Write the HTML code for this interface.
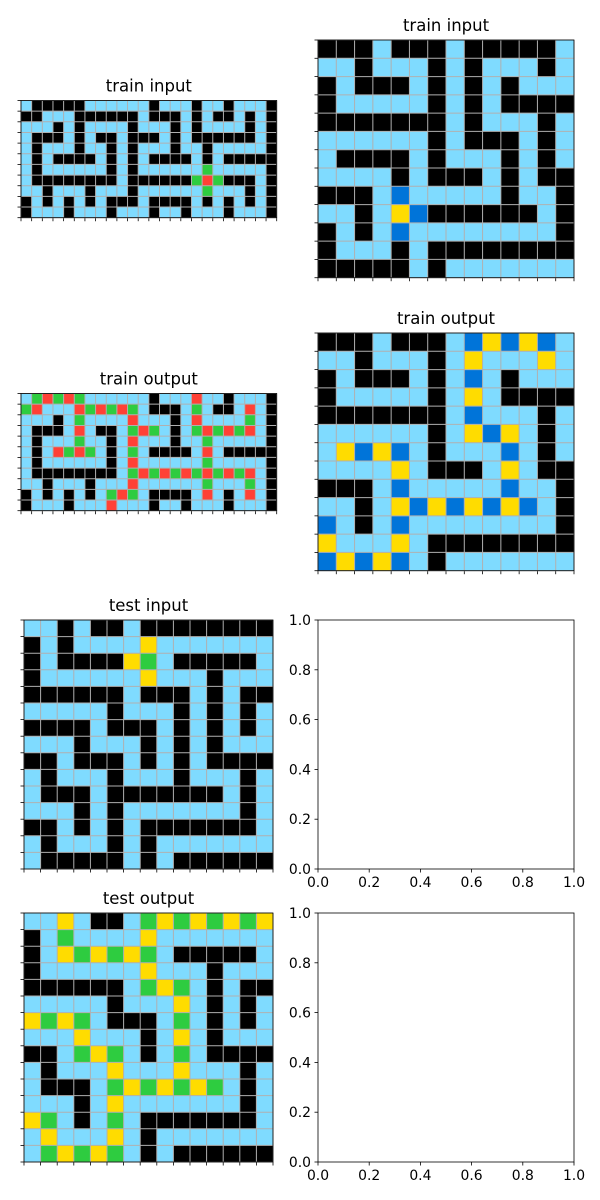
<!DOCTYPE html>
<html><head><meta charset="utf-8">
<style>
html,body{margin:0;padding:0;background:#fff;}
svg{display:block;}
text{font-family:"DejaVu Sans","Liberation Sans",sans-serif;fill:#000;}
</style></head>
<body>
<svg id="fig" width="600" height="1200" viewBox="0 0 600 1200" xmlns="http://www.w3.org/2000/svg"></svg>
<script>
const train1Input = [
"LBBBBBLLLLLLBLLLBLLBLLLB",
"BBLLLBBBBBBLBBBLBLBBLBLB",
"LLLBLBLLLLBLLLBLBLLLLBLB",
"LBBBLBLBBLBBBLBLBBBBBBLB",
"LBLLLBLLBLBLLLBLLBLLLLLB",
"LBLBBBBLBLBLBBBBLBLBBBBB",
"LBLLLLLLBLBLLLLLLGLLLLLB",
"LBBBBBBBBLBBBBBBGRGBBBLB",
"LLBLLLBLLLBLLLLLLGLLLBLB",
"BLBLBLBLBBBLBBBBLBLBLBLB",
"BLLLBLLLBLLLBLLBLLLBLLLB"];
const train1Output = [
"LGRGRGLLLLLLBLLLRLLBLLLB",
"GRLLLRGRGRGLBBBLGLBBLRLB",
"LLLBLGLLLLRLLLBLRLLLLGLB",
"LBBBLRLBBLGRGLBLGRGRGRLB",
"LBLLLGLLBLRLLLBLLGLLLLLB",
"LBLRGRGLBLGLBBBBLRLBBBBB",
"LBLLLLLLBLRLLLLLLGLLLLLB",
"LBBBBBBBBLGRGRGRGRGRGRLB",
"LLBLLLBLLLRLLLLLLGLLLGLB",
"BLBLBLBLGRGLBBBBLRLBLRLB",
"BLLLBLLLRLLLBLLBLLLBLLLB"];
const train2Input = [
"BBBLBBBLBBBBBL",
"LLBLLLBLBLLLBL",
"BLBBBLBLBLBLLL",
"BLLLLLBLBLBBBB",
"BBBBBBBLBLLLBL",
"LLLLLLBLBBBLBL",
"LBBBBLBLLLBLBL",
"LLLLBLBBBLBLBB",
"BBBLDLLLLLBLLB",
"LLBLYDBBBBBBLB",
"BLBLDLLLLLLLLB",
"BLLLBLBBBBBBBB",
"BBBBBLBLLLLLLL"];
const train2Output = [
"BBBLBBBLDYDYDL",
"LLBLLLBLYLLLYL",
"BLBBBLBLDLBLLL",
"BLLLLLBLYLBBBB",
"BBBBBBBLDLLLBL",
"LLLLLLBLYDYLBL",
"LYDYDLBLLLDLBL",
"LLLLYLBBBLYLBB",
"BBBLDLLLLLDLLB",
"LLBLYDYDYDYDLB",
"DLBLDLLLLLLLLB",
"YLLLYLBBBBBBBB",
"DYDYDLBLLLLLLL"];
const testInput = [
"LLBLBBLBBBBBBBB",
"BLBLLLLYLLLLLLL",
"BLBBBBYGLBBBBBL",
"BLLLLLLYLLLBLLL",
"BBBBBBLBBBLBLBB",
"LLLLLBLLLBLBLBL",
"BBBBLBBBLBLBLBL",
"LLLBLLLBLBLBLLL",
"BBLBBBLBLBLBBBB",
"LBLLLBLLLBLLLBL",
"LBBBLBBBBBBBLBL",
"LLLBLBLLLLLLLBL",
"BBLBLBLBBBBBBBL",
"LBLLLBLBLLLLLLL",
"LBBBBBLBLBBBBBB"];
const testOutput = [
"LLYLBBLGYGYGYGY",
"BLGLLLLYLLLLLLL",
"BLYGYGYGLBBBBBL",
"BLLLLLLYLLLBLLL",
"BBBBBBLGYGLBLBB",
"LLLLLBLLLYLBLBL",
"YGYGLBBBLGLBLBL",
"LLLYLLLBLYLBLLL",
"BBLGYGLBLGLBBBB",
"LBLLLYLLLYLLLBL",
"LBBBLGYGYGYGLBL",
"LLLBLYLLLLLLLBL",
"YGLBLGLBBBBBBBL",
"LYLLLYLBLLLLLLL",
"LGYGYGLBLBBBBBB"];
const tickLabels = ["0.0","0.2","0.4","0.6","0.8","1.0"];
const tickValues = [0,0.2,0.4,0.6,0.8,1.0];

const COLORS = {B:"#000000",L:"#7FDBFF",G:"#2ECC40",R:"#FF4136",Y:"#FFDC00",D:"#0074D9"};
const NS = "http://www.w3.org/2000/svg";
const fig = document.getElementById('fig');
function mk(tag, attrs, parent){
  const e = document.createElementNS(NS, tag);
  for (const k in attrs) e.setAttribute(k, attrs[k]);
  (parent||fig).appendChild(e);
  return e;
}
function drawGrid(grid, x0, y0, w, title, name){
  const g = mk('g', {});
  
  
  const rows = grid.length, cols = grid[0].length;
  const cs = w / cols;
  const h = cs * rows;
  for (let r = 0; r < rows; r++){
    for (let c = 0; c < cols; c++){
      const rc = mk('rect', {x:x0+c*cs, y:y0+r*cs, width:cs+0.3, height:cs+0.3, fill:COLORS[grid[r][c]]}, g);
      
      
    }
  }
  for (let c = 0; c <= cols; c++){
    mk('line', {x1:x0+c*cs, y1:y0, x2:x0+c*cs, y2:y0+h, stroke:"#b0b0b0", 'stroke-width':1}, g);
    mk('line', {x1:x0+c*cs, y1:y0+h, x2:x0+c*cs, y2:y0+h+3.5, stroke:"#000", 'stroke-width':0.8}, g);
  }
  for (let r = 0; r <= rows; r++){
    mk('line', {x1:x0, y1:y0+r*cs, x2:x0+w, y2:y0+r*cs, stroke:"#b0b0b0", 'stroke-width':1}, g);
    mk('line', {x1:x0-3.5, y1:y0+r*cs, x2:x0, y2:y0+r*cs, stroke:"#000", 'stroke-width':0.8}, g);
  }
  mk('rect', {x:x0, y:y0, width:w, height:h, fill:"none", stroke:"#000", 'stroke-width':0.8}, g);
  const t = mk('text', {x:x0+w/2, y:y0-9, 'text-anchor':'middle', 'font-size':'16.5px'}, g);
  t.textContent = title;
  
  
}
function drawEmpty(x0, y0, w, h, name){
  const g = mk('g', {});
  
  
  mk('rect', {x:x0, y:y0, width:w, height:h, fill:"#fff", stroke:"#000", 'stroke-width':0.8}, g);
  for (let i = 0; i < tickValues.length; i++){
    const xx = x0 + tickValues[i]*w;
    const yy = y0 + h - tickValues[i]*h;
    mk('line', {x1:xx, y1:y0+h, x2:xx, y2:y0+h+3.5, stroke:"#000", 'stroke-width':0.8}, g);
    mk('line', {x1:x0-3.5, y1:yy, x2:x0, y2:yy, stroke:"#000", 'stroke-width':0.8}, g);
    const tx = mk('text', {x:xx, y:y0+h+18, 'text-anchor':'middle', 'font-size':'13.9px'}, g);
    tx.textContent = tickLabels[i];
    
    
    const ty = mk('text', {x:x0-7, y:yy+5, 'text-anchor':'end', 'font-size':'13.9px'}, g);
    ty.textContent = tickLabels[i];
    
    
  }
}
drawGrid(train1Input, 21, 100.5, 255.7, "train input", "train-input-1");
drawGrid(train2Input, 318, 40, 256, "train input", "train-input-2");
drawGrid(train1Output, 21, 393.5, 255.7, "train output", "train-output-1");
drawGrid(train2Output, 318, 333, 256, "train output", "train-output-2");
drawGrid(testInput, 24, 620, 249, "test input", "test-input");
drawGrid(testOutput, 24, 913, 249, "test output", "test-output");
drawEmpty(318, 620, 256, 249, "empty-axes-1");
drawEmpty(318, 913, 256, 249, "empty-axes-2");
</script>
</body></html>
